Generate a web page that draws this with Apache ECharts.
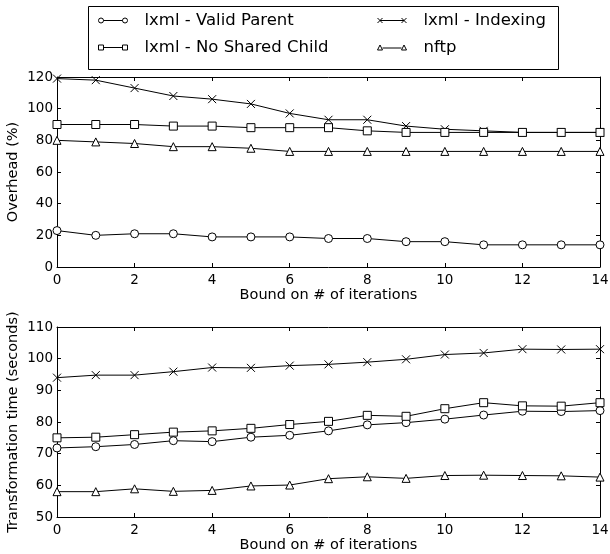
<!DOCTYPE html>
<html>
<head>
<meta charset="utf-8">
<style>
  html, body { margin: 0; padding: 0; background: #fff; }
  #chart { width: 610px; height: 554px; }
</style>
<script src="https://cdn.jsdelivr.net/npm/echarts@6/dist/echarts.min.js"></script>
</head>
<body>
<div id="chart"></div>
<script>
// iterations bound (x axis)
var iterations = [0, 1, 2, 3, 4, 5, 6, 7, 8, 9, 10, 11, 12, 13, 14];
var seriesNames = ['lxml - Valid Parent', 'lxml - Indexing', 'lxml - No Shared Child', 'nftp'];

// top plot: overhead (%)
var overheadValid = [23, 20, 21, 21, 19, 19, 19, 18, 18, 16, 16, 14, 14, 14, 14];
var overheadIndexing = [119, 118, 113, 108, 106, 103, 97, 93, 93, 89, 87, 86, 85, 85, 85];
var overheadNoShared = [90, 90, 90, 89, 89, 88, 88, 88, 86, 85, 85, 85, 85, 85, 85];
var overheadNftp = [80, 79, 78, 76, 76, 75, 73, 73, 73, 73, 73, 73, 73, 73, 73];

// bottom plot: transformation time (seconds)
var timeValid = [71.8, 72.2, 72.9, 74.1, 73.8, 75.2, 75.8, 77.2, 79.1, 79.8, 80.9, 82.2, 83.4, 83.3, 83.6];
var timeIndexing = [94, 94.8, 94.8, 95.9, 97.2, 97.1, 97.8, 98.2, 98.9, 99.8, 101.3, 101.8, 103, 102.9, 103];
var timeNoShared = [75, 75.2, 76, 76.8, 77.2, 78, 79.2, 80.2, 82.1, 81.8, 84.2, 86.1, 85.1, 85, 86.1];
var timeNftp = [58, 58, 58.9, 58.1, 58.4, 59.8, 60.1, 62.1, 62.7, 62.2, 63.1, 63.2, 63.1, 63, 62.6];

var xTicks = { min: 0, max: 14, interval: 2 };
var overheadTicks = { min: 0, max: 120, interval: 20 };
var timeTicks = { min: 50, max: 110, interval: 10 };

var FONT = 'DejaVu Sans';
var symbols = {
    'lxml - Valid Parent': 'circle',
    'lxml - Indexing': 'path://M0,0L10,10M10,0L0,10',
    'lxml - No Shared Child': 'rect',
    'nftp': 'triangle'
};
// legend icons: marker - line - marker
var legendIcons = {
    'lxml - Valid Parent': 'path://M0.5,3A2.5,2.5,0,1,1,5.5,3A2.5,2.5,0,1,1,0.5,3ZM5.5,3L24.5,3M24.5,3A2.5,2.5,0,1,1,29.5,3A2.5,2.5,0,1,1,24.5,3Z',
    'lxml - No Shared Child': 'path://M0.5,0.5L5.5,0.5L5.5,5.5L0.5,5.5ZM5.5,3L24.5,3M24.5,0.5L29.5,0.5L29.5,5.5L24.5,5.5Z',
    'lxml - Indexing': 'path://M0.5,0.5L5.5,5.5M5.5,0.5L0.5,5.5M3,3L27,3M24.5,0.5L29.5,5.5M29.5,0.5L24.5,5.5',
    'nftp': 'path://M3,0.5L5.5,5.5L0.5,5.5ZM5.5,3.5L24.5,3.5M27,0.5L29.5,5.5L24.5,5.5Z'
};

function pairs(ys) {
    return iterations.map(function (x, i) { return [x, ys[i]]; });
}

function makeX(gridIndex, main, withName) {
    return {
        type: 'value', gridIndex: gridIndex, position: main ? 'bottom' : 'top',
        min: xTicks.min, max: xTicks.max, interval: xTicks.interval,
        name: withName ? 'Bound on # of iterations' : '',
        nameLocation: 'middle', nameGap: 20,
        nameTextStyle: { fontFamily: FONT, fontSize: 14.5, color: '#000' },
        axisLine: { show: true, onZero: false, lineStyle: { color: '#000', width: 1 } },
        axisTick: { show: true, inside: true, length: 4, lineStyle: { color: '#000' } },
        axisLabel: { show: main, margin: 6, fontFamily: FONT, fontSize: 13.5, color: '#000' },
        splitLine: { show: false }
    };
}

function makeY(gridIndex, main, ticks, name) {
    return {
        type: 'value', gridIndex: gridIndex, position: main ? 'left' : 'right',
        min: ticks.min, max: ticks.max, interval: ticks.interval,
        name: main ? name : '',
        nameLocation: 'middle', nameGap: 36, nameMoveOverlap: false,
        nameTextStyle: { fontFamily: FONT, fontSize: 14.5, color: '#000' },
        axisLine: { show: true, onZero: false, lineStyle: { color: '#000', width: 1 } },
        axisTick: { show: true, inside: true, length: 4, lineStyle: { color: '#000' } },
        axisLabel: { show: main, margin: 4, fontFamily: FONT, fontSize: 13.5, color: '#000' },
        splitLine: { show: false }
    };
}

function makeLine(name, ys, xIdx, yIdx) {
    return {
        name: name, type: 'line', data: pairs(ys),
        xAxisIndex: xIdx, yAxisIndex: yIdx,
        symbol: symbols[name], symbolSize: 8,
        showAllSymbol: true, clip: false,
        lineStyle: { color: '#000', width: 1 },
        itemStyle: { color: '#fff', borderColor: '#000', borderWidth: 1 },
        emphasis: { disabled: true },
        animation: false
    };
}

function legendCol(names, left) {
    return {
        orient: 'vertical', left: left, top: 7, itemGap: 10,
        itemWidth: 29, itemHeight: 5,
        data: names.map(function (n) { return { name: n, icon: legendIcons[n] }; }),
        itemStyle: { color: '#fff', borderColor: '#000', borderWidth: 1 },
        lineStyle: { color: '#000', width: 1 },
        textStyle: { fontFamily: FONT, fontSize: 16.5, color: '#000', padding: [0, 0, 0, 12] },
        selectedMode: false
    };
}

var chart = echarts.init(document.getElementById('chart'));
chart.setOption({
    backgroundColor: '#fff',
    animation: false,
    graphic: [{
        type: 'rect', left: 86, top: 4,
        shape: { width: 470, height: 63 },
        style: { fill: 'none', stroke: '#000', lineWidth: 1 }
    }],
    legend: [
        legendCol([seriesNames[0], seriesNames[2]], 93),
        legendCol([seriesNames[1], seriesNames[3]], 372)
    ],
    grid: [
        { left: 57, top: 77, width: 543, height: 190, containLabel: false, outerBoundsMode: 'none' },
        { left: 57, top: 327, width: 543, height: 190, containLabel: false, outerBoundsMode: 'none' }
    ],
    xAxis: [makeX(0, true, true), makeX(0, false), makeX(1, true, true), makeX(1, false)],
    yAxis: [
        makeY(0, true, overheadTicks, 'Overhead (%)'), makeY(0, false, overheadTicks),
        makeY(1, true, timeTicks, 'Transformation time (seconds)'), makeY(1, false, timeTicks)
    ],
    series: [
        makeLine(seriesNames[0], overheadValid, 0, 0),
        makeLine(seriesNames[1], overheadIndexing, 0, 0),
        makeLine(seriesNames[2], overheadNoShared, 0, 0),
        makeLine(seriesNames[3], overheadNftp, 0, 0),
        makeLine(seriesNames[0], timeValid, 2, 2),
        makeLine(seriesNames[1], timeIndexing, 2, 2),
        makeLine(seriesNames[2], timeNoShared, 2, 2),
        makeLine(seriesNames[3], timeNftp, 2, 2)
    ]
});
</script>
</body>
</html>
